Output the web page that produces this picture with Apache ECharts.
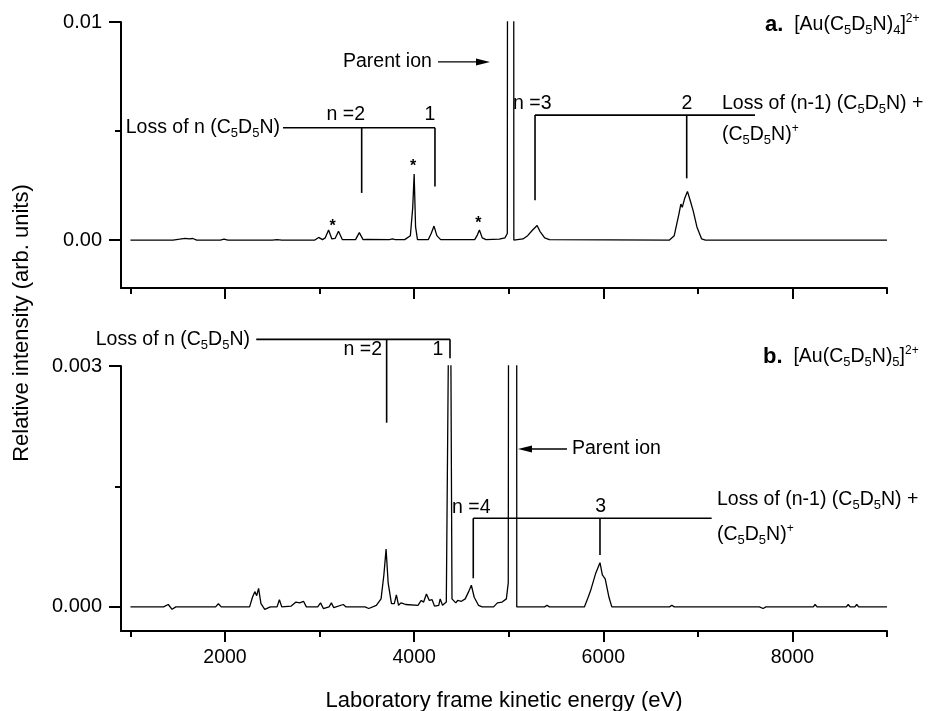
<!DOCTYPE html>
<html>
<head>
<meta charset="utf-8">
<script src="https://cdn.jsdelivr.net/npm/echarts@6/dist/echarts.min.js"></script>
<style>
  html, body { margin: 0; padding: 0; background: #fff; }
  #chart { width: 933px; height: 711px; }
</style>
</head>
<body>
<div id="chart"></div>
<script>
// panel a: [Au(C5D5N)4]2+
const energyA = [1000, 1450, 1520, 1580, 1620, 1660, 1700, 1950, 1990, 2030, 2500, 2550, 2600, 2950, 2990, 3030, 3060, 3095, 3130, 3165, 3200, 3240, 3380, 3420, 3460, 3500, 3740, 3770, 3800, 3900, 3960, 3985, 4000, 4015, 4035, 4150, 4180, 4210, 4240, 4280, 4640, 4665, 4690, 4720, 4760, 4900, 4960, 4985, 4993, 5050, 5054, 5150, 5200, 5250, 5300, 5330, 5380, 5430, 6700, 6750, 6800, 6820, 6835, 6860, 6890, 6920, 6950, 6990, 7040, 7080, 9000];
const intensityA = [0, 0, 0.00004, 0.00008, 0.00005, 0.00007, 0, 0, 0.00004, 0, 0, 0.00002, 0, 0, 0.00012, 0.00002, 0.0001, 0.00046, 0.00005, 0.00008, 0.0004, 0.00002, 0.00002, 0.00034, 0.00002, 0.00003, 0.00002, 0.00005, 0.00002, 0.00002, 0.0002, 0.0015, 0.00303, 0.0006, 0.00002, 0.00002, 0.0003, 0.00064, 0.0002, 0.00002, 0.00002, 0.0002, 0.00046, 0.0001, 0.00002, 0.00004, 0.0001, 0.0003, 0.05, 0.05, 0, 0.00005, 0.0002, 0.00045, 0.00067, 0.0004, 0.0001, 0.00002, 0, 0.0002, 0.0012, 0.00165, 0.0015, 0.0019, 0.00223, 0.0018, 0.00135, 0.0006, 0.00005, 0, 0];

// panel b: [Au(C5D5N)5]2+
const energyB = [1000, 1350, 1400, 1440, 1480, 1900, 1930, 1960, 2260, 2290, 2315, 2335, 2355, 2380, 2420, 2480, 2550, 2575, 2600, 2700, 2750, 2790, 2830, 2860, 2980, 3010, 3040, 3100, 3125, 3150, 3250, 3280, 3480, 3520, 3600, 3650, 3680, 3703, 3725, 3760, 3790, 3812, 3835, 3860, 3885, 3910, 4040, 4075, 4100, 4130, 4160, 4190, 4215, 4260, 4275, 4300, 4340, 4362, 4388, 4400, 4440, 4460, 4500, 4540, 4580, 4605, 4635, 4680, 4720, 4840, 4880, 4930, 4975, 4995, 5012, 5082, 5085, 5380, 5405, 5430, 5800, 5840, 5865, 5920, 5965, 5990, 6020, 6060, 6090, 6700, 6725, 6750, 7650, 7690, 7720, 8080, 8100, 8130, 8220, 8240, 8260, 8570, 8590, 8610, 8660, 8680, 8700, 9000];
const intensityB = [0, 0, 0.00003, -0.00003, 0, 0, 0.00004, 0, 0, 0.00012, 0.00019, 0.00014, 0.00023, 0.00004, -0.00003, 0, 0, 0.00009, 0, 0.00001, 0.00006, 0.00005, 0.00007, 0, 0, 0.00005, -0.00002, 0, 0.00005, -0.00001, 0.00003, 0, 0, -0.00002, 0.00002, 0.0001, 0.0004, 0.00072, 0.0003, 0.00004, 0.00004, 0.00015, 0.00002, 0.00005, 0.00004, 0.00003, 0.00002, 0.00008, 0.00006, 0.00016, 0.00008, 0.00009, 0.00001, 0.00002, 0.0001, 0.00002, 0.00006, 0.0032, 0.0032, 0.0001, 0.00005, 0.00008, 0.00007, 0.0001, 0.0002, 0.00027, 0.00012, 0.00002, 0, 0, 0.00005, 0.00006, 0.0001, 0.0003, 0.02, 0.02, 0, 0, 0.00002, 0, 0, 0.00012, 0.0002, 0.00042, 0.00055, 0.0004, 0.00035, 0.00012, 0, 0, 0.00002, 0, 0, -0.00002, 0, 0, -0.00002, 0, 0, 0.00003, 0, 0, 0.00003, 0, 0, 0.00003, 0, 0];

const xMajorTicks = [2000, 4000, 6000, 8000];
const xMinorTicks = [1000, 3000, 5000, 7000, 9000];
const yTicksA = [0, 0.01];
const yTicksB = [0, 0.003];

// peaks marked with an asterisk in panel a: [x, y]
const starsA = [[3139, 0.00061], [3988, 0.00337], [4678, 0.00074]];

// annotation brackets, in data units: [x1, y1, x2, y2]
const segmentsA = [
  [2613, 0.00515, 4220, 0.00515], [3445, 0.00515, 3445, 0.00216], [4220, 0.00515, 4220, 0.00245],
  [5278, 0.00573, 7604, 0.00573], [5278, 0.00573, 5278, 0.00183], [6882, 0.00573, 6882, 0.00283]
];
const segmentsB = [
  [2330, 0.003332, 4379, 0.003332], [3709, 0.003332, 3709, 0.002294], [4379, 0.003332, 4379, 0.003096],
  [4625, 0.001104, 7146, 0.001104], [4625, 0.001104, 4625, 0.000357], [5965, 0.001104, 5965, 0.000647]
];
// labels: [text, x, y, align]
const labelsA = [
  ['Loss of n (C{s|5}D{s|5}N)', 2581, 0.00514, 'right'],
  ['n =2', 3480, 0.00573, 'right'],
  ['1', 4167, 0.00573, 'center'],
  ['Parent ion', 3247, 0.00817, 'left'],
  ['n =3', 5045, 0.00624, 'left'],
  ['2', 6885, 0.00624, 'center'],
  ['Loss of (n-1) (C{s|5}D{s|5}N) +', 7255, 0.00624, 'left'],
  ['(C{s|5}D{s|5}N){p|+}', 7255, 0.00482, 'left'],
  ['{b|a.}  [Au(C{s|5}D{s|5}N){s|4}]{p|2+}', 7710, 0.00986, 'left']
];
const labelsB = [
  ['Loss of n (C{s|5}D{s|5}N)', 2264, 0.00333, 'right'],
  ['n =2', 3660, 0.0032, 'right'],
  ['1', 4252, 0.0032, 'center'],
  ['Parent ion', 5669, 0.001967, 'left'],
  ['n =4', 4400, 0.001232, 'left'],
  ['3', 5972, 0.001245, 'center'],
  ['Loss of (n-1) (C{s|5}D{s|5}N) +', 7202, 0.001332, 'left'],
  ['(C{s|5}D{s|5}N){p|+}', 7202, 0.000896, 'left'],
  ['{b|b.}  [Au(C{s|5}D{s|5}N){s|5}]{p|2+}', 7689, 0.003112, 'left']
];
// arrows: [xFrom, xTo, y]
const arrowsA = [[4252, 4802, 0.00817]];
const arrowsB = [[5616, 5098, 0.001967]];

const FONT = '"Liberation Sans", Arial, Helvetica, sans-serif';
const chart = echarts.init(document.getElementById('chart'));

const grids = [
  { left: 121, right: 46, top: 22, height: 266, outerBoundsMode: 'none', containLabel: false },
  { left: 121, right: 46, top: 366, height: 265, outerBoundsMode: 'none', containLabel: false }
];

function mainX(gi, showLabels) {
  return {
    type: 'value', gridIndex: gi, min: 900, max: 9000, position: 'bottom', offset: 0,
    axisLine: { onZero: false, lineStyle: { color: '#000', width: 2 } },
    axisTick: { customValues: xMajorTicks, length: 11, lineStyle: { color: '#000', width: 2 } },
    axisLabel: {
      show: showLabels, customValues: xMajorTicks, color: '#000', fontSize: 19.5, fontFamily: FONT,
      margin: 17, formatter: v => String(v)
    },
    splitLine: { show: false },
    name: showLabels ? 'Laboratory frame kinetic energy (eV)' : '',
    nameLocation: 'middle', nameGap: 59,
    nameTextStyle: { color: '#000', fontSize: 22, fontFamily: FONT }
  };
}
function minorX(gi) {
  return {
    type: 'value', gridIndex: gi, min: 900, max: 9000, position: 'bottom', offset: 0,
    axisLine: { show: false, onZero: false },
    axisTick: { customValues: xMinorTicks, length: 6, lineStyle: { color: '#000', width: 2 } },
    axisLabel: { show: false }, splitLine: { show: false }
  };
}
function mainY(gi, min, max, ticks, fmt) {
  return {
    type: 'value', gridIndex: gi, min: min, max: max, position: 'left', offset: 0,
    axisLine: { show: true, onZero: false, lineStyle: { color: '#000', width: 2 } },
    axisTick: { show: true, customValues: ticks, length: 12, lineStyle: { color: '#000', width: 2 } },
    axisLabel: { customValues: ticks, color: '#000', fontSize: 20, fontFamily: FONT, margin: 19, formatter: fmt },
    splitLine: { show: false }
  };
}
function minorY(gi, min, max, mid) {
  return {
    type: 'value', gridIndex: gi, min: min, max: max, position: 'left', offset: 0,
    axisLine: { show: false, onZero: false },
    axisTick: { show: true, customValues: [mid], length: 6, lineStyle: { color: '#000', width: 2 } },
    axisLabel: { show: false }, splitLine: { show: false }
  };
}

chart.setOption({
  animation: false,
  backgroundColor: '#fff',
  grid: grids,
  xAxis: [mainX(0, false), mainX(1, true), minorX(0), minorX(1)],
  yAxis: [
    mainY(0, -0.0022, 0.01, yTicksA, v => (v === 0 ? '0.00' : '0.01')),
    mainY(1, -0.0003, 0.003, yTicksB, v => (v === 0 ? '0.000' : '0.003')),
    minorY(0, -0.0022, 0.01, 0.005),
    minorY(1, -0.0003, 0.003, 0.0015)
  ],
  series: [
    {
      type: 'line', xAxisIndex: 0, yAxisIndex: 0, showSymbol: false, clip: true,
      lineStyle: { color: '#000', width: 1.3 },
      data: energyA.map((e, i) => [e, intensityA[i]])
    },
    {
      type: 'line', xAxisIndex: 1, yAxisIndex: 1, showSymbol: false, clip: true,
      lineStyle: { color: '#000', width: 1.3 },
      data: energyB.map((e, i) => [e, intensityB[i]])
    }
  ]
});

const rich = {
  s: { fontSize: 13, fontFamily: FONT, verticalAlign: 'bottom' },
  p: { fontSize: 12, fontFamily: FONT, verticalAlign: 'top' },
  b: { fontSize: 22, fontFamily: FONT, fontWeight: 'bold' }
};

function toPx(k, x, y) {
  return chart.convertToPixel({ xAxisIndex: k, yAxisIndex: k }, [x, y]);
}

const graphics = [];
[[segmentsA, labelsA, arrowsA], [segmentsB, labelsB, arrowsB]].forEach(([segs, labs, arrs], k) => {
  segs.forEach(s => {
    const a = toPx(k, s[0], s[1]);
    const b = toPx(k, s[2], s[3]);
    graphics.push({
      type: 'line', silent: true,
      shape: { x1: a[0], y1: a[1], x2: b[0], y2: b[1] },
      style: { stroke: '#000', lineWidth: 1.6 }
    });
  });
  labs.forEach(l => {
    const p = toPx(k, l[1], l[2]);
    graphics.push({
      type: 'text', silent: true, x: p[0], y: p[1],
      style: {
        text: l[0], fill: '#000', fontSize: 19.5, fontFamily: FONT, lineHeight: 24,
        align: l[3], verticalAlign: 'middle', rich: rich
      }
    });
  });
  arrs.forEach(a => {
    const p0 = toPx(k, a[0], a[2]);
    const p1 = toPx(k, a[1], a[2]);
    const dir = p1[0] > p0[0] ? 1 : -1;
    graphics.push({
      type: 'line', silent: true,
      shape: { x1: p0[0], y1: p0[1], x2: p1[0] - dir * 8, y2: p1[1] },
      style: { stroke: '#000', lineWidth: 1.4 }
    });
    graphics.push({
      type: 'polygon', silent: true,
      shape: { points: [[p1[0], p1[1]], [p1[0] - dir * 14, p1[1] - 3.5], [p1[0] - dir * 14, p1[1] + 3.5]] },
      style: { fill: '#000' }
    });
  });
});

starsA.forEach(s => {
  const p = toPx(0, s[0], s[1]);
  graphics.push({
    type: 'text', silent: true, x: p[0], y: p[1],
    style: { text: '*', fill: '#000', fontSize: 16, fontWeight: 'bold', fontFamily: FONT, align: 'center', verticalAlign: 'middle' }
  });
});

graphics.push({
  type: 'text', silent: true, x: 22, y: 323, rotation: Math.PI / 2,
  style: {
    text: 'Relative intensity (arb. units)', fill: '#000', fontSize: 22, fontFamily: FONT,
    align: 'center', verticalAlign: 'middle'
  }
});

chart.setOption({ graphic: graphics });
</script>
</body>
</html>
